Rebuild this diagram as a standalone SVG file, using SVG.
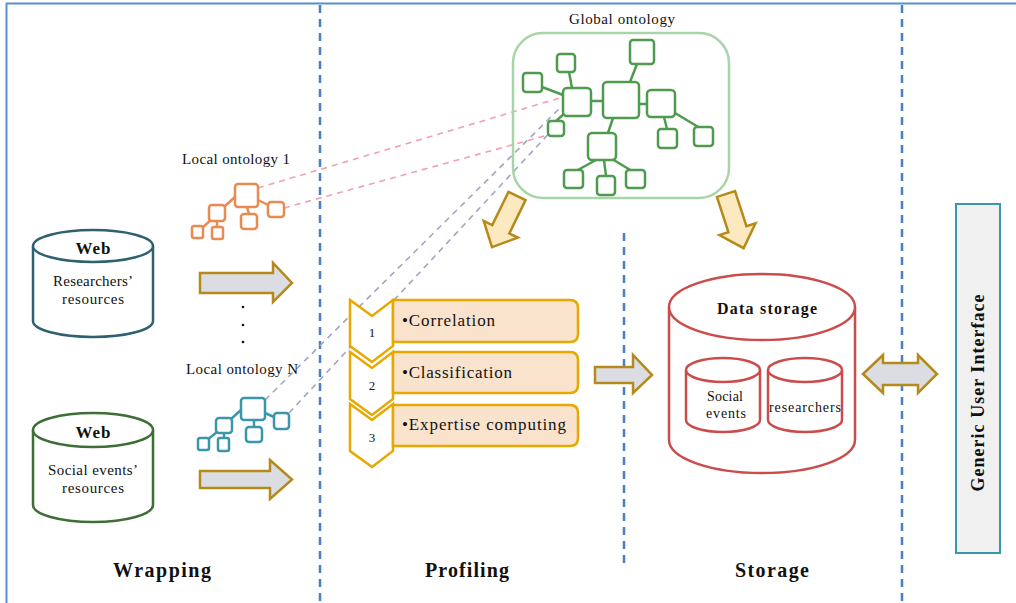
<svg xmlns="http://www.w3.org/2000/svg" width="1016" height="603" viewBox="0 0 1016 603">
<style>
text{font-family:"Liberation Serif","DejaVu Serif",serif;fill:#111}
.b{font-weight:bold}
.frame{stroke:#5b8ed0;stroke-width:2;fill:none}
.sep{stroke:#4a7fc1;stroke-width:2.5;stroke-dasharray:8 6;fill:none}
.gn rect{fill:#fff;stroke:#4e9a4e;stroke-width:2.5}
.gn line{stroke:#4e9a4e;stroke-width:2.5}
.on rect{fill:#fff;stroke:#ea8a50;stroke-width:2.5}
.on line{stroke:#ea8a50;stroke-width:2.5}
.tn rect{fill:#fff;stroke:#3a97aa;stroke-width:2.5}
.tn line{stroke:#3a97aa;stroke-width:2.5}
.pink{stroke:#f0a0b4;stroke-width:1.6;stroke-dasharray:6 5;fill:none}
.grey{stroke:#a0a6c0;stroke-width:1.6;stroke-dasharray:6 5;fill:none}
.garrow{fill:#dcdde2;stroke:#b58a1a;stroke-width:2.5;stroke-linejoin:miter}
.yarrow{fill:#fde9c0;stroke:#b58a1a;stroke-width:2.5}
.chev{fill:#fff;stroke:#e8a800;stroke-width:2.5;stroke-linejoin:miter}
.step{fill:#fae3cd;stroke:#e8a800;stroke-width:2.5}
</style>
<defs>
<path id="ya" d="M0,-9.5 L37,-9.5 L37,-19 L57,0 L37,19 L37,9.5 L0,9.5 Z"/>
</defs>

<g id="frame">
<line class="frame" x1="6" y1="3.5" x2="1016" y2="3.5"/>
<line class="frame" x1="6.5" y1="3" x2="6.5" y2="603"/>
<line class="sep" x1="320" y1="5" x2="320" y2="603"/>
<line class="sep" x1="902" y1="5" x2="902" y2="603"/>
<line class="sep" x1="624" y1="233" x2="624" y2="565"/>
</g>

<g id="connectors">
<line class="pink" x1="258" y1="188" x2="563" y2="97"/>
<line class="pink" x1="284" y1="208" x2="548" y2="135"/>
<line class="grey" x1="265" y1="400" x2="563" y2="105"/>
<line class="grey" x1="289" y1="413" x2="555" y2="127"/>
<path class="garrow" d="M200,273 L273,273 L273,263 L292,283 L273,302 L273,293 L200,293 Z"/>
<path class="garrow" d="M200,471 L270,471 L270,460 L292,479.5 L270,499 L270,488 L200,488 Z"/>
<path class="garrow" d="M595,367 L633,367 L633,355 L652,375 L633,393 L633,383 L595,383 Z"/>
<path class="garrow" d="M863,374 L883,355 L883,363 L918,363 L918,355 L937,374 L918,393 L918,385 L883,385 L883,393 Z"/>
<use href="#ya" class="yarrow" transform="translate(517,196) rotate(116)"/>
<use href="#ya" class="yarrow" transform="translate(726,194) rotate(72)"/>
</g>

<g id="global-ontology">
<text x="622" y="24" font-size="15" text-anchor="middle" textLength="106">Global ontology</text>
<rect x="513" y="33" width="216" height="165" rx="30" fill="none" stroke="#a8d5a8" stroke-width="2.5"/>
<g class="gn">
<line x1="637" y1="64" x2="630" y2="82"/>
<line x1="591" y1="101" x2="603" y2="101"/>
<line x1="639" y1="104" x2="647" y2="104"/>
<line x1="613" y1="118" x2="608" y2="133"/>
<line x1="569" y1="72" x2="572" y2="88"/>
<line x1="542" y1="87" x2="563" y2="95"/>
<line x1="556" y1="121" x2="565" y2="113"/>
<line x1="664" y1="117" x2="667" y2="129"/>
<line x1="675" y1="113" x2="700" y2="128"/>
<line x1="596" y1="160" x2="576" y2="171"/>
<line x1="604" y1="160" x2="606" y2="176"/>
<line x1="612" y1="159" x2="632" y2="171"/>
<rect x="630" y="40" width="24" height="24" rx="3"/>
<rect x="603" y="82" width="36" height="36" rx="4"/>
<rect x="563" y="88" width="28" height="28" rx="4"/>
<rect x="647" y="90" width="28" height="27" rx="4"/>
<rect x="588" y="133" width="28" height="27" rx="4"/>
<rect x="557" y="54" width="18" height="18" rx="3"/>
<rect x="523" y="73" width="19" height="19" rx="3"/>
<rect x="548" y="121" width="16" height="15" rx="3"/>
<rect x="658" y="129" width="19" height="19" rx="3"/>
<rect x="694" y="127" width="19" height="19" rx="3"/>
<rect x="564" y="170" width="19" height="18" rx="3"/>
<rect x="597" y="176" width="18" height="19" rx="3"/>
<rect x="626" y="170" width="19" height="18" rx="3"/>
</g>
</g>

<g id="local-ontology-1">
<text x="236" y="164" font-size="15" text-anchor="middle" textLength="108">Local ontology 1</text>
<g class="on">
<line x1="235" y1="197" x2="225" y2="206"/>
<line x1="247" y1="207" x2="249" y2="214"/>
<line x1="258" y1="200" x2="268" y2="205"/>
<line x1="211" y1="220" x2="202" y2="228"/>
<line x1="217" y1="221" x2="217" y2="227"/>
<rect x="235" y="184" width="23" height="23" rx="3"/>
<rect x="268" y="202" width="16" height="15" rx="3"/>
<rect x="241" y="214" width="16" height="15" rx="3"/>
<rect x="209" y="205" width="16" height="16" rx="3"/>
<rect x="192" y="226" width="11" height="12" rx="2"/>
<rect x="212" y="227" width="11" height="12" rx="2"/>
</g>
</g>

<g id="local-ontology-n">
<text x="242" y="374" font-size="15" text-anchor="middle" textLength="112">Local ontology N</text>
<g class="tn">
<line x1="241" y1="410" x2="231" y2="419"/>
<line x1="254" y1="420" x2="254" y2="427"/>
<line x1="265" y1="413" x2="274" y2="417"/>
<line x1="217" y1="432" x2="207" y2="440"/>
<line x1="224" y1="433" x2="224" y2="438"/>
<rect x="241" y="398" width="24" height="22" rx="3"/>
<rect x="274" y="413" width="15" height="16" rx="3"/>
<rect x="246" y="427" width="16" height="15" rx="3"/>
<rect x="216" y="418" width="16" height="15" rx="3"/>
<rect x="198" y="438" width="11" height="12" rx="2"/>
<rect x="218" y="438" width="11" height="13" rx="2"/>
</g>
</g>

<g id="web-researchers">
<path d="M33,246 L33,321 A60,16 0 0 0 153,321 L153,246" fill="#fff" stroke="#2e6070" stroke-width="2.5"/>
<ellipse cx="93" cy="246" rx="60" ry="16" fill="#fff" stroke="#2e6070" stroke-width="2.5"/>
<text x="93" y="254" font-size="17" class="b" text-anchor="middle" textLength="35">Web</text>
<text x="93" y="286" font-size="15" text-anchor="middle" textLength="80">Researchers’</text>
<text x="93" y="304" font-size="15" text-anchor="middle" textLength="62">resources</text>
</g>

<g id="dots">
<circle cx="243" cy="307" r="1.3" fill="#111"/>
<circle cx="243" cy="325" r="1.3" fill="#111"/>
<circle cx="243" cy="342" r="1.3" fill="#111"/>
</g>

<g id="web-social">
<path d="M33,430 L33,505 A60,17 0 0 0 153,505 L153,430" fill="#fff" stroke="#3d6e35" stroke-width="2.5"/>
<ellipse cx="93" cy="430" rx="60" ry="17" fill="#fff" stroke="#3d6e35" stroke-width="2.5"/>
<text x="93" y="438" font-size="17" class="b" text-anchor="middle" textLength="35">Web</text>
<text x="93" y="475" font-size="15" text-anchor="middle" textLength="90">Social events’</text>
<text x="93" y="493" font-size="15" text-anchor="middle" textLength="62">resources</text>
</g>

<g id="step-1">
<polygon class="chev" points="350,300 372,316 393,300 393,346 372,362 350,346"/>
<path class="step" d="M393,300 L570,300 Q578,300 578,308 L578,334 Q578,342 570,342 L393,342 Z"/>
<text x="372" y="337" font-size="13" text-anchor="middle">1</text>
<text x="402" y="326" font-size="17" textLength="93">•Correlation</text>
</g>
<g id="step-2">
<polygon class="chev" points="350,352 372,368 393,352 393,399 372,415 350,399"/>
<path class="step" d="M393,352 L570,352 Q578,352 578,360 L578,385 Q578,393 570,393 L393,393 Z"/>
<text x="372" y="390" font-size="13" text-anchor="middle">2</text>
<text x="402" y="378" font-size="17" textLength="110">•Classification</text>
</g>
<g id="step-3">
<polygon class="chev" points="350,404 372,420 393,404 393,451 372,467 350,451"/>
<path class="step" d="M393,405 L570,405 Q578,405 578,413 L578,438 Q578,446 570,446 L393,446 Z"/>
<text x="372" y="442" font-size="13" text-anchor="middle">3</text>
<text x="402" y="430" font-size="17" textLength="164">•Expertise computing</text>
</g>

<g id="data-storage">
<path d="M669,307 L669,440 A93,33 0 0 0 855,440 L855,307" fill="#fff" stroke="#cc4c4c" stroke-width="2.5"/>
<ellipse cx="762" cy="307" rx="93" ry="33" fill="#fff" stroke="#cc4c4c" stroke-width="2.5"/>
<text x="767" y="314" font-size="16" class="b" text-anchor="middle" textLength="100">Data storage</text>
</g>
<g id="social-events-store">
<path d="M686,370 L686,420 A37,12 0 0 0 760,420 L760,370" fill="#fff" stroke="#cc4c4c" stroke-width="2.5"/>
<ellipse cx="723" cy="370" rx="37" ry="12" fill="#fff" stroke="#cc4c4c" stroke-width="2.5"/>
<text x="725" y="401" font-size="14" text-anchor="middle" textLength="36">Social</text>
<text x="726" y="418" font-size="14" text-anchor="middle" textLength="40">events</text>
</g>
<g id="researchers-store">
<path d="M768,370 L768,420 A37,12 0 0 0 842,420 L842,370" fill="#fff" stroke="#cc4c4c" stroke-width="2.5"/>
<ellipse cx="805" cy="370" rx="37" ry="12" fill="#fff" stroke="#cc4c4c" stroke-width="2.5"/>
<text x="805" y="412" font-size="14" text-anchor="middle" textLength="72">researchers</text>
</g>

<g id="gui">
<rect x="956" y="204" width="44" height="349" fill="#f0f0f0" stroke="#3a97aa" stroke-width="2"/>
<text transform="translate(984,393) rotate(-90)" font-size="18" class="b" text-anchor="middle" textLength="197">Generic User Interface</text>
</g>

<g id="labels">
<text x="162" y="577" font-size="20" class="b" text-anchor="middle" textLength="98">Wrapping</text>
<text x="467" y="577" font-size="20" class="b" text-anchor="middle" textLength="84">Profiling</text>
<text x="772" y="577" font-size="20" class="b" text-anchor="middle" textLength="74">Storage</text>
</g>
</svg>
